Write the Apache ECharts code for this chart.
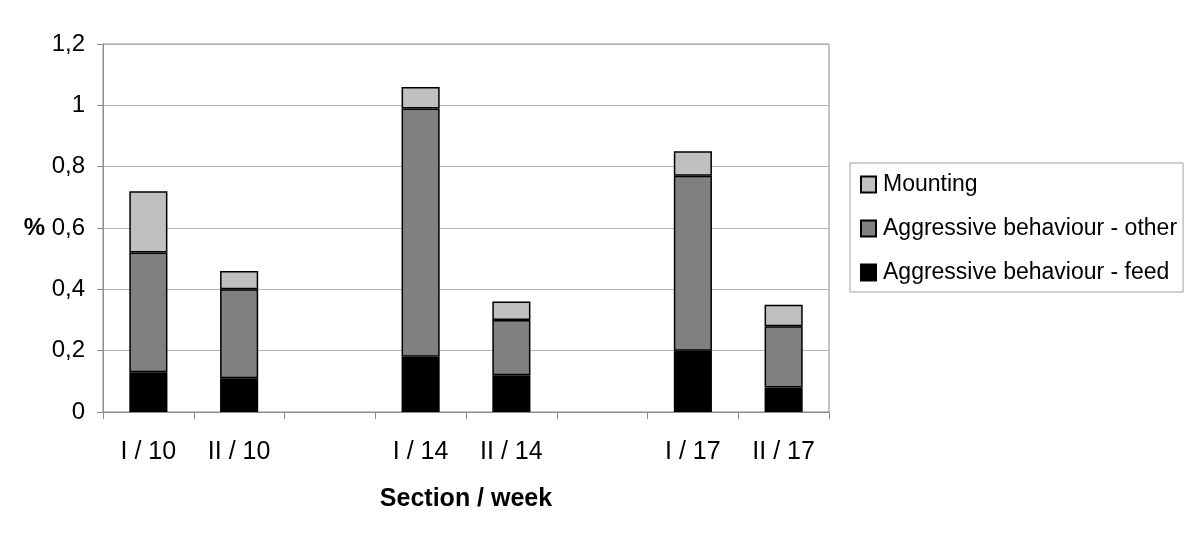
<!DOCTYPE html>
<html lang="en">

<head>
  <meta charset="UTF-8">
  <title>Section / week</title>
</head>

<body style="margin:0;background:#fff;">
  <div id="main" style="width: 1200px;height:550px;"></div>

  <script src="https://cdn.jsdelivr.net/npm/echarts@6/dist/echarts.min.js"></script>
  <script>

  // categories (two empty slots separate the weeks)
  const categories = ['I / 10', 'II / 10', '', 'I / 14', 'II / 14', '', 'I / 17', 'II / 17'];
  // stacked segments, in %
  const feed     = [0.13, 0.11, null, 0.18, 0.12, null, 0.20, 0.08];
  const other    = [0.39, 0.29, null, 0.81, 0.18, null, 0.57, 0.20];
  const mounting = [0.20, 0.06, null, 0.07, 0.06, null, 0.08, 0.07];
  const yTicks = [0, 0.2, 0.4, 0.6, 0.8, 1, 1.2];

  const font = 'Liberation Sans, Arial, sans-serif';

  let myChart = echarts.init(document.getElementById('main'));

  function seg(name, data, color) {
    return {
      name: name,
      type: 'bar',
      stack: 'total',
      data: data,
      barWidth: '42%',
      itemStyle: { color: color, borderColor: '#000', borderWidth: 1.5 },
      emphasis: { disabled: true }
    };
  }

  let option = {
    animation: false,
    textStyle: { fontFamily: font },
    grid: {
      left: 103, right: 371, top: 44, bottom: 138,
      show: true, borderColor: '#8c8c8c', borderWidth: 1
    },
    legend: {
      orient: 'vertical',
      left: 850, top: 163,
      padding: [9, 6, 7, 10],
      itemGap: 19,
      itemWidth: 15, itemHeight: 16,
      icon: 'rect',
      borderColor: '#a0a0a0', borderWidth: 1,
      textStyle: { fontSize: 23, lineHeight: 25, color: '#000', fontFamily: font, padding: [0, 0, 0, 2] },
      data: ['Mounting', 'Aggressive behaviour - other', 'Aggressive behaviour - feed']
    },
    xAxis: {
      type: 'category',
      data: categories,
      name: 'Section / week',
      nameLocation: 'middle',
      nameGap: 75,
      nameTextStyle: { fontSize: 25, fontWeight: 'bold', color: '#000' },
      axisLine: { lineStyle: { color: '#8c8c8c' } },
      axisTick: { show: true, length: 7, lineStyle: { color: '#8c8c8c' } },
      axisLabel: { fontSize: 25, color: '#000', margin: 28 }
    },
    yAxis: {
      type: 'value',
      min: 0, max: 1.2, interval: 0.2,
      name: '%',
      nameLocation: 'middle',
      nameRotate: 0,
      nameGap: 58,
      nameTextStyle: { fontSize: 24, fontWeight: 'bold', color: '#000' },
      axisLine: { show: true, lineStyle: { color: '#8c8c8c' } },
      axisTick: { show: true, length: 6, lineStyle: { color: '#8c8c8c' } },
      axisLabel: {
        fontSize: 24, color: '#000', margin: 18,
        formatter: v => {
          const t = yTicks.find(x => Math.abs(x - v) < 1e-6);
          return String(t === undefined ? v : t).replace('.', ',');
        }
      },
      splitLine: { lineStyle: { color: '#b4b4b4' } }
    },
    series: [
      seg('Aggressive behaviour - feed', feed, '#000000'),
      seg('Aggressive behaviour - other', other, '#808080'),
      seg('Mounting', mounting, '#c0c0c0')
    ]
  };

  myChart.setOption(option);
  </script>
</body>

</html>
